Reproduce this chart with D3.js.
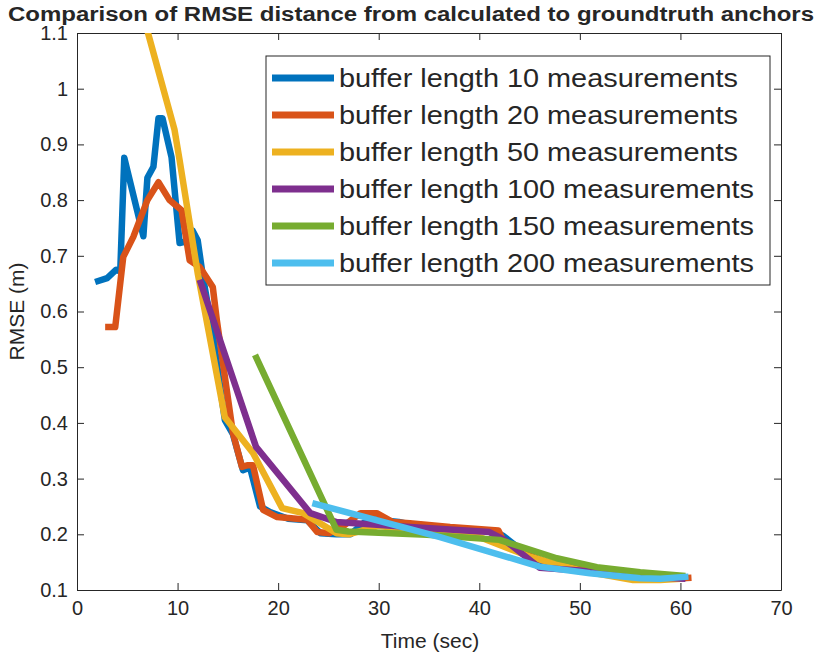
<!DOCTYPE html>
<html>
<head>
<meta charset="utf-8">
<script src="https://cdn.jsdelivr.net/npm/d3@7/dist/d3.min.js"></script>
<style>
  body { margin: 0; background: #fff; }
  text { font-family: "Liberation Sans", Arial, sans-serif; fill: #262626; }
</style>
</head>
<body>
<div id="chart"></div>
<script>
// series
var names = ["buffer length 10 measurements", "buffer length 20 measurements", "buffer length 50 measurements",
             "buffer length 100 measurements", "buffer length 150 measurements", "buffer length 200 measurements"];
var colors = ["#0072BD", "#D95319", "#EDB120", "#7E2F8E", "#77AC30", "#4DBEEE"];

var x10 = [1.8, 3.0, 3.9, 4.3, 4.7, 6.6, 7.0, 7.6, 8.1, 8.5, 9.4, 10.2, 10.7, 11.5, 12.0, 12.5, 13.5, 14.7, 15.5, 16.5, 17.2, 18.2, 19.2, 21, 22.9, 24.2, 25.8, 27.2, 29, 32, 35, 38, 41.5, 42.4, 45, 47, 50, 53, 56, 59, 60.7];
var y10 = [0.653, 0.660, 0.675, 0.672, 0.876, 0.735, 0.840, 0.860, 0.947, 0.947, 0.877, 0.723, 0.725, 0.745, 0.728, 0.665, 0.56, 0.405, 0.38, 0.315, 0.32, 0.25, 0.24, 0.228, 0.225, 0.202, 0.200, 0.20, 0.228, 0.222, 0.21, 0.208, 0.205, 0.197, 0.16, 0.145, 0.14, 0.13, 0.12, 0.12, 0.122];

var x20 = [2.8, 3.8, 4.6, 5.6, 7.0, 8.1, 9.2, 10.4, 11.2, 12.2, 13.5, 13.9, 15.5, 16.4, 17.0, 17.5, 18.5, 19.9, 22.9, 23.9, 25.1, 26.5, 28.2, 29.8, 31.4, 33.1, 37.1, 41.9, 42.4, 45, 47, 50, 53, 56, 59, 61.1];
var y20 = [0.572, 0.572, 0.698, 0.734, 0.800, 0.832, 0.800, 0.782, 0.692, 0.680, 0.644, 0.585, 0.382, 0.321, 0.324, 0.324, 0.244, 0.231, 0.226, 0.204, 0.202, 0.215, 0.238, 0.238, 0.222, 0.22, 0.213, 0.207, 0.188, 0.162, 0.148, 0.138, 0.128, 0.12, 0.12, 0.122];

var x50 = [6.3, 9.7, 10.2, 12.0, 14.7, 17.5, 20.4, 22.5, 25.8, 27, 30, 35, 40, 45, 50, 55.3, 58, 60];
var y50 = [1.15, 0.926, 0.872, 0.669, 0.41, 0.346, 0.247, 0.238, 0.202, 0.20, 0.215, 0.205, 0.195, 0.16, 0.135, 0.118, 0.118, 0.12];

var x100 = [12.2, 17.8, 23.2, 25.8, 33.1, 41, 42.5, 46, 50, 55, 60.5];
var y100 = [0.657, 0.357, 0.238, 0.222, 0.213, 0.204, 0.19, 0.14, 0.135, 0.125, 0.12];

var x150 = [17.7, 25.8, 27, 34.8, 42, 47.7, 51.7, 56, 60.5];
var y150 = [0.522, 0.208, 0.205, 0.199, 0.19, 0.157, 0.141, 0.132, 0.125];

var x200 = [23.4, 36.1, 46, 51, 56, 58, 60.8];
var y200 = [0.256, 0.195, 0.142, 0.13, 0.121, 0.12, 0.124];

var xTicks = [0, 10, 20, 30, 40, 50, 60, 70];
var yTicks = [0.1, 0.2, 0.3, 0.4, 0.5, 0.6, 0.7, 0.8, 0.9, 1, 1.1];

var xs = [x10, x20, x50, x100, x150, x200];
var ys = [y10, y20, y50, y100, y150, y200];

var W = 822, H = 658;
var pL = 77, pR = 781, pT = 33, pB = 590;

var x = d3.scaleLinear().domain([0, 70]).range([pL, pR]);
var y = d3.scaleLinear().domain([0.1, 1.1]).range([pB, pT]);

var svg = d3.select("#chart").append("svg")
    .attr("width", W)
    .attr("height", H);

svg.append("clipPath")
    .attr("id", "plotclip")
    .append("rect")
    .attr("x", pL).attr("y", pT)
    .attr("width", pR - pL).attr("height", pB - pT);

// stretch a text to a target width (MATLAB's fonts run wider)
function stretch(sel, factor) {
    sel.each(function() {
        var w = this.getComputedTextLength();
        d3.select(this).attr("textLength", w * factor).attr("lengthAdjust", "spacingAndGlyphs");
    });
}

// axes, MATLAB style: inward ticks on all four sides
var tickLen = 7;
var gx = svg.append("g")
    .attr("transform", "translate(0," + pB + ")")
    .call(d3.axisBottom(x).tickValues(xTicks).tickSizeInner(-tickLen).tickSizeOuter(0).tickPadding(11));
var gxt = svg.append("g")
    .attr("transform", "translate(0," + pT + ")")
    .call(d3.axisTop(x).tickValues(xTicks).tickSizeInner(-tickLen).tickSizeOuter(0).tickFormat(""));
var gy = svg.append("g")
    .attr("transform", "translate(" + pL + ",0)")
    .call(d3.axisLeft(y).tickValues(yTicks).tickSizeInner(-tickLen).tickSizeOuter(0).tickPadding(9).tickFormat(d3.format("~g")));
var gyr = svg.append("g")
    .attr("transform", "translate(" + pR + ",0)")
    .call(d3.axisRight(y).tickValues(yTicks).tickSizeInner(-tickLen).tickSizeOuter(0).tickFormat(""));

[gx, gxt, gy, gyr].forEach(function(g) {
    g.select(".domain").attr("stroke", "#262626");
    g.selectAll(".tick line").attr("stroke", "#262626");
    g.selectAll(".tick text")
        .attr("fill", "#262626")
        .style("font-family", "'Liberation Sans', Arial, sans-serif")
        .style("font-size", "20px");
});

var line = d3.line()
    .x(function(d) { return x(d[0]); })
    .y(function(d) { return y(d[1]); });

var plot = svg.append("g").attr("clip-path", "url(#plotclip)");
xs.forEach(function(xv, i) {
    var pts = xv.map(function(v, j) { return [v, ys[i][j]]; });
    plot.append("path")
        .datum(pts)
        .attr("d", line)
        .attr("fill", "none")
        .attr("stroke", colors[i])
        .attr("stroke-width", 6.5)
        .attr("stroke-linejoin", "round")
        .attr("stroke-linecap", "butt");
});

// legend
var lg = svg.append("g");
lg.append("rect")
    .attr("x", 266).attr("y", 56)
    .attr("width", 504).attr("height", 229)
    .attr("fill", "#fff")
    .attr("stroke", "#262626")
    .attr("stroke-width", 1);

lg.selectAll("line")
    .data(names)
    .enter()
    .append("line")
    .attr("x1", 272).attr("x2", 334)
    .attr("y1", function(d, i) { return 78 + i * 37; })
    .attr("y2", function(d, i) { return 78 + i * 37; })
    .attr("stroke", function(d, i) { return colors[i]; })
    .attr("stroke-width", 7);

lg.selectAll("text")
    .data(names)
    .enter()
    .append("text")
    .attr("x", 339)
    .attr("y", function(d, i) { return 78 + i * 37 + 9; })
    .attr("font-size", "26px")
    .attr("fill", "#000")
    .text(function(d) { return d; })
    .call(stretch, 1.11);

// title and axis labels
svg.append("text")
    .attr("x", W / 2).attr("y", 21)
    .attr("text-anchor", "middle")
    .attr("font-size", "20px")
    .attr("font-weight", "bold")
    .attr("fill", "#000")
    .attr("textLength", 806)
    .attr("lengthAdjust", "spacingAndGlyphs")
    .text("Comparison of RMSE distance from calculated to groundtruth anchors");

svg.append("text")
    .attr("x", 430).attr("y", 648)
    .attr("text-anchor", "middle")
    .attr("font-size", "21px")
    .text("Time (sec)");

svg.append("text")
    .attr("transform", "translate(24," + ((pT + pB) / 2) + ") rotate(-90)")
    .attr("text-anchor", "middle")
    .attr("font-size", "21px")
    .text("RMSE (m)");
</script>
</body>
</html>
